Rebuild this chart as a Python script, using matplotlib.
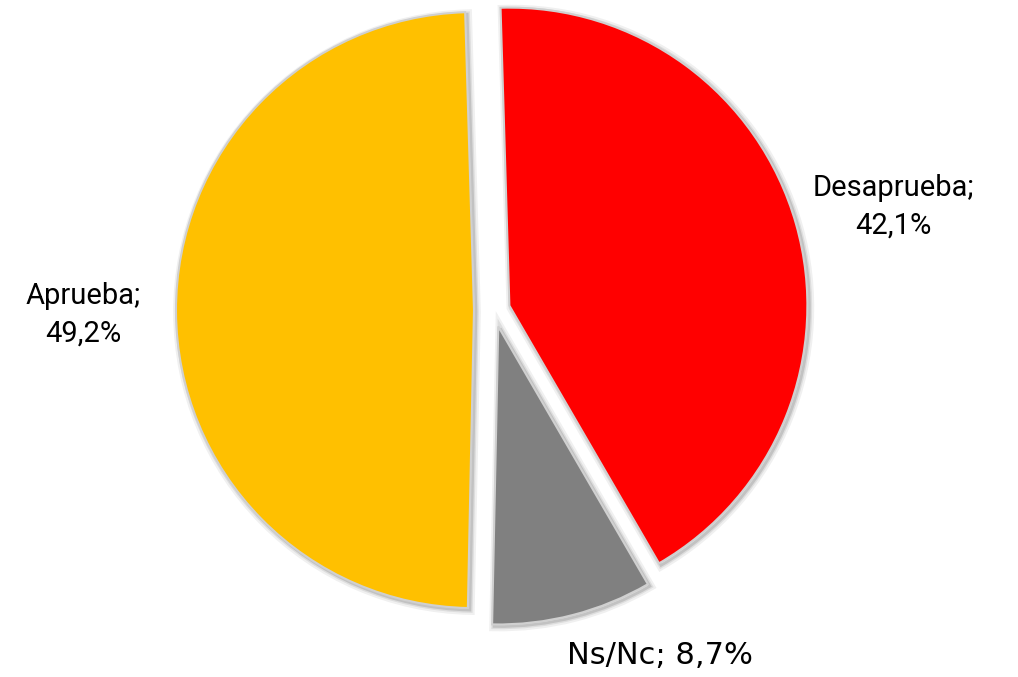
import matplotlib.pyplot as plt
from matplotlib.patches import Wedge

# Data
labels = ['Desaprueba', 'Ns/Nc', 'Aprueba']
values = [42.1, 8.7, 49.2]
colors = ['#FF0000', '#808080', '#FFC000']
explode = [16, 17, 20]  # pixel offsets (pie drawn in pixel-like data units)

fig = plt.figure(figsize=(10.18, 6.77), dpi=100)
ax = fig.add_axes([0, 0, 1, 1])

wedges, _ = ax.pie(values, colors=colors, explode=explode, startangle=91.7,
                   counterclock=False, center=(494, 677 - 310), radius=298,
                   frame=True,
                   wedgeprops=dict(edgecolor='#d0d0d0', linewidth=1.5, zorder=3))

# soft shadow under each slice
for w in wedges:
    for lw, a in [(7, 0.06), (4, 0.08), (2, 0.12)]:
        s = Wedge((w.center[0] + 2, w.center[1] - 2), w.r, w.theta1, w.theta2,
                  facecolor='none', edgecolor='black', linewidth=lw, alpha=a,
                  zorder=2)
        ax.add_patch(s)

ax.set_xlim(0, 1018)
ax.set_ylim(0, 677)
ax.set_aspect('equal')
ax.axis('off')

# Labels
txt = dict(fontsize=21, family='Roboto', color='black', ha='center', va='center',
           linespacing=1.45)
ax.text(893, 677 - 207, 'Desaprueba;\n42,1%', **txt)
ax.text(83, 677 - 315, 'Aprueba;\n49,2%', **txt)
ax.text(660, 677 - 656, 'Ns/Nc; 8,7%', fontsize=22, family='DejaVu Sans',
        color='black', ha='center', va='center')

fig.savefig('out.png', dpi=100)
